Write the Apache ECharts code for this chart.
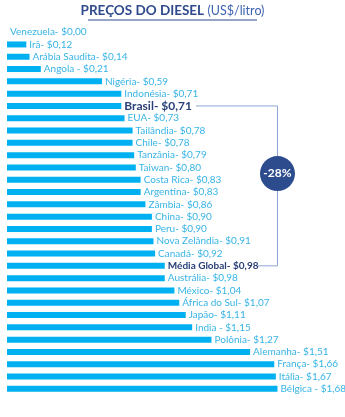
<!DOCTYPE html>
<html><head><meta charset="utf-8">
<script src="https://cdn.jsdelivr.net/npm/echarts@6/dist/echarts.min.js"></script>
<style>html,body{margin:0;padding:0;background:#fff}#c{width:345px;height:417px}</style>
</head><body><div id="c"></div>
<script>
const countries = ["Venezuela","Irã","Arábia Saudita","Angola ","Nigéria","Indonésia","Brasil","EUA","Tailândia","Chile","Tanzânia","Taiwan","Costa Rica","Argentina","Zâmbia","China","Peru","Nova Zelândia","Canadá","Média Global","Austrália","México","África do Sul","Japão","India ","Polônia","Alemanha","França","Itália","Bélgica "];
const prices = [0.00,0.12,0.14,0.21,0.59,0.71,0.71,0.73,0.78,0.78,0.79,0.80,0.83,0.83,0.86,0.90,0.90,0.91,0.92,0.98,0.98,1.04,1.07,1.11,1.15,1.27,1.51,1.66,1.67,1.68];
const titleMain = "PREÇOS DO DIESEL";
const titleUnit = "(US$/litro)";
const diffLabel = "-28%";

const fmt = v => "$" + v.toFixed(2).replace(".", ",");
const FONT = "Lato";
const chart = echarts.init(document.getElementById('c'));
const data = prices.map((v, i) => {
  const n = countries[i];
  const d = {value: v};
  if (n === "Brasil") d.label = {color: "#2B4079", fontWeight: "bold", fontSize: 12};
  if (n === "Média Global") d.label = {color: "#2B4079", fontWeight: "bold"};
  return d;
});
chart.setOption({
  animation: false,
  grid: {left: 7, right: 16, top: 26, height: 369},
  xAxis: {type: "value", min: 0, max: 2, show: false},
  yAxis: {type: "category", data: countries, inverse: true, show: false},
  series: [{
    type: "bar", data: data, barWidth: 6,
    itemStyle: {color: "#00B0F0"},
    label: {show: true, position: "right", distance: 3, fontFamily: FONT, fontSize: 10,
      color: "#38B4E6",
      formatter: p => p.name + "- " + fmt(p.value)}
  }]
});
const yB = chart.convertToPixel({yAxisIndex: 0}, "Brasil");
const yM = chart.convertToPixel({yAxisIndex: 0}, "Média Global");
const yT = chart.convertToPixel({yAxisIndex: 0}, "Taiwan");
const yC = chart.convertToPixel({yAxisIndex: 0}, "Costa Rica");
const xR = chart.convertToPixel({xAxisIndex: 0}, 1.68);
const lineStyle = {stroke: "#8EA6D6", lineWidth: 1};
chart.setOption({
  graphic: [
    {type: "text", left: "center", top: 4, style: {
      text: "{a|" + titleMain + "} {b|" + titleUnit + "}",
      rich: {a: {fontFamily: FONT, fontWeight: "bold", fontSize: 13.5, fill: "#2E4A8C"},
             b: {fontFamily: FONT, fontSize: 12.5, fill: "#3D63B0"}}}},
    {type: "line", shape: {x1: 88, y1: 20, x2: 257, y2: 20}, style: {stroke: "#2E4A8C", lineWidth: 1}},
    {type: "polyline", shape: {points: [[196, yB], [xR, yB], [xR, yM], [258, yM]]}, style: Object.assign({fill: null}, lineStyle)},
    {type: "circle", shape: {cx: xR, cy: (yT + yC) / 2, r: 17.5}, style: {fill: "#2C4C8E"}, z: 10},
    {type: "text", x: xR, y: (yT + yC) / 2, z: 11, style: {text: diffLabel, fill: "#fff", fontFamily: FONT, fontWeight: "bold", fontSize: 12, align: "center", verticalAlign: "middle"}}
  ]
});
</script></body></html>
